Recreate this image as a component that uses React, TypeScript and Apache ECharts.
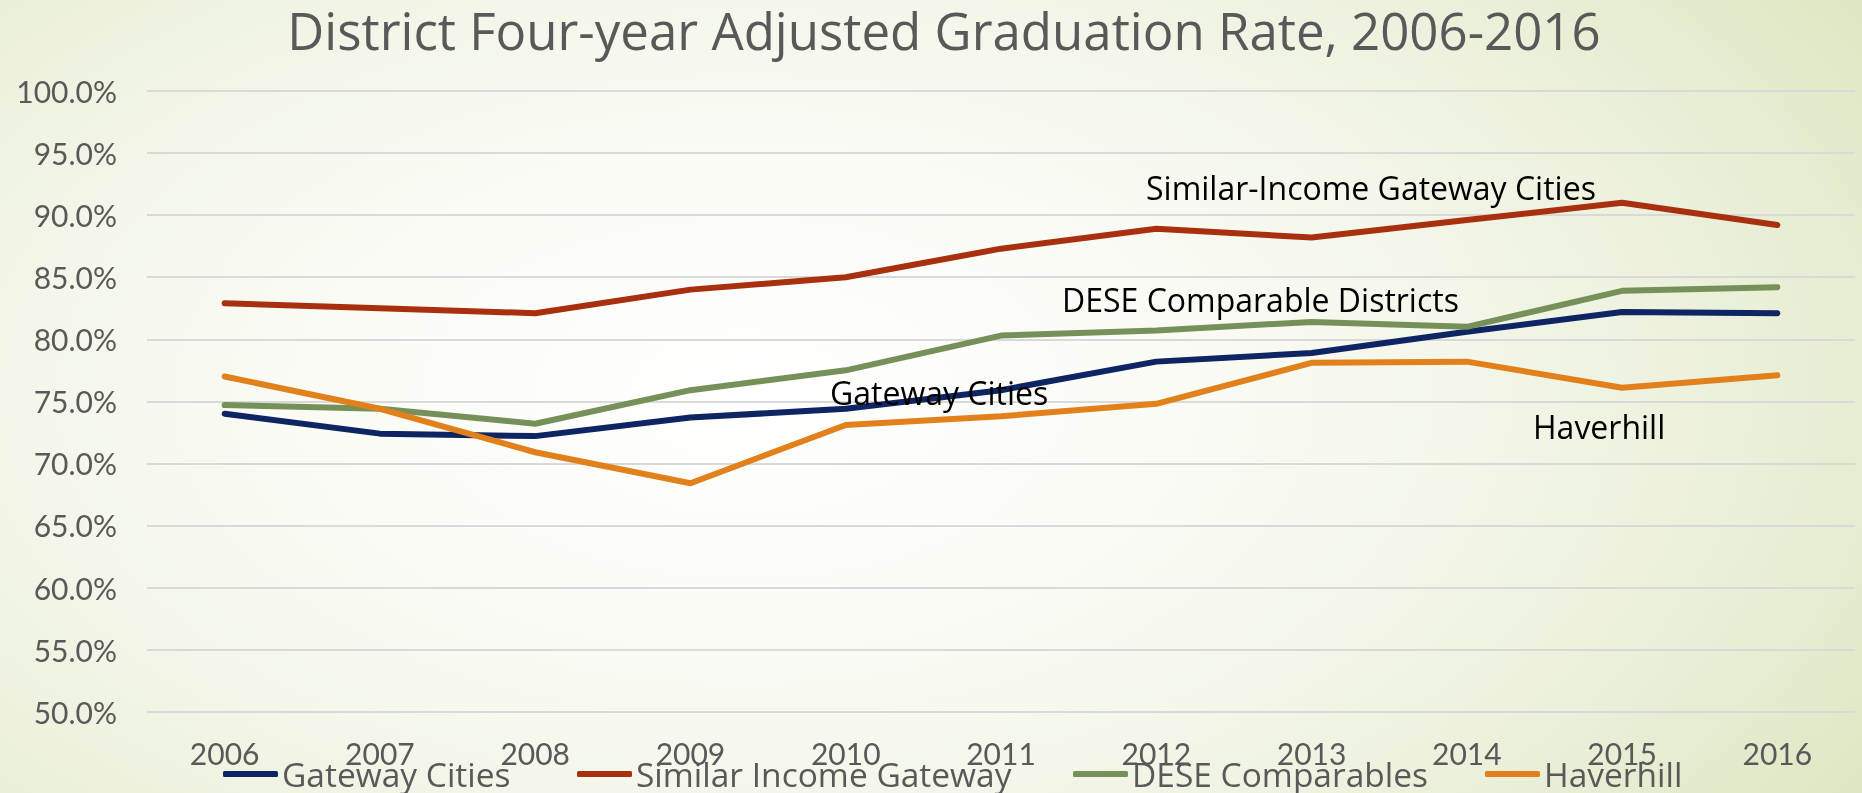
import React, { useEffect, useRef } from "react";
import * as echarts from "echarts";

const years = ["2006", "2007", "2008", "2009", "2010", "2011", "2012", "2013", "2014", "2015", "2016"];
const gatewayCities = [74.0, 72.4, 72.2, 73.7, 74.4, 75.9, 78.2, 78.9, 80.6, 82.2, 82.1];
const similarIncome = [82.9, 82.5, 82.1, 84.0, 85.0, 87.3, 88.9, 88.2, 89.6, 91.0, 89.2];
const deseComparables = [74.7, 74.4, 73.2, 75.9, 77.5, 80.3, 80.7, 81.4, 81.0, 83.9, 84.2];
const haverhill = [77.0, 74.4, 70.9, 68.4, 73.1, 73.8, 74.8, 78.1, 78.2, 76.1, 77.1];

const seriesNames = ["Gateway Cities", "Similar Income Gateway", "DESE Comparables", "Haverhill"];
const seriesColors = ["#0e2463", "#a8300f", "#76905a", "#e2801c"];
const seriesData = [gatewayCities, similarIncome, deseComparables, haverhill];

const annotations = [
  { text: "Similar-Income Gateway Cities", x: 1146, y: 187 },
  { text: "DESE Comparable Districts", x: 1062, y: 299 },
  { text: "Gateway Cities", x: 830, y: 392 },
  { text: "Haverhill", x: 1533, y: 426 },
];
const legendLefts = [223, 577, 1073, 1485];

const FONT = "Lato, 'Open Sans', sans-serif";
const WIDE = "'Open Sans', Lato, sans-serif";

export default function App() {
  const ref = useRef<HTMLDivElement>(null);
  useEffect(() => {
    if (!ref.current) return;
    const chart = echarts.init(ref.current, undefined, { renderer: "svg" });
    chart.setOption({
      animation: false,
      backgroundColor: "transparent",
      title: {
        text: "District Four-year Adjusted Graduation Rate, 2006-2016",
        left: 944,
        textAlign: "center",
        top: 4,
        padding: 0,
        textStyle: { fontFamily: WIDE, fontSize: 51, fontWeight: "normal", color: "#595959" },
      },
      grid: { left: 147, right: 7, top: 91, bottom: 81.3, containLabel: false },
      xAxis: {
        type: "category",
        data: years,
        boundaryGap: true,
        axisLine: { show: false },
        axisTick: { show: false },
        axisLabel: { margin: 26, fontFamily: FONT, fontSize: 30, color: "#595959" },
      },
      yAxis: {
        type: "value",
        min: 50,
        max: 100,
        interval: 5,
        axisLine: { show: false },
        axisTick: { show: false },
        axisLabel: {
          margin: 30,
          fontFamily: FONT,
          fontSize: 30,
          color: "#595959",
          formatter: (v: number) => v.toFixed(1) + "%",
        },
        splitLine: { lineStyle: { color: "#d9d9d9", width: 2 } },
      },
      legend: seriesNames.map((name, i) => ({
        data: [name],
        left: legendLefts[i],
        top: 757,
        padding: 0,
        icon: "roundRect",
        itemWidth: 55,
        itemHeight: 6,
        itemGap: 0,
        textStyle: {
          fontFamily: WIDE,
          fontSize: 33.5,
          lineHeight: 30,
          color: "#595959",
          padding: [0, 0, 0, -1],
        },
      })),
      series: seriesNames.map((name, i) => ({
        name,
        type: "line",
        data: seriesData[i],
        symbol: "none",
        showSymbol: false,
        color: seriesColors[i],
        lineStyle: { width: 6, color: seriesColors[i], cap: "round", join: "round" },
        z: 2 + i,
      })),
      graphic: annotations.map((a) => ({
        type: "text",
        x: a.x,
        y: a.y,
        z: 10,
        style: {
          text: a.text,
          x: 0,
          y: 0,
          fill: "#000000",
          font: `32px ${WIDE}`,
          textAlign: "left",
          textVerticalAlign: "middle",
          verticalAlign: "middle",
        },
      })),
    });
    return () => chart.dispose();
  }, []);
  return (
    <div
      style={{
        position: "fixed",
        left: 0,
        top: 0,
        width: 1862,
        height: 793,
        background:
          "radial-gradient(ellipse 72% 95% at 40% 50%, #ffffff 0%, #f8faf2 40%, #ebf0da 75%, #dde6c0 100%)",
      }}
    >
      <div ref={ref} style={{ width: 1862, height: 793 }} />
    </div>
  );
}
